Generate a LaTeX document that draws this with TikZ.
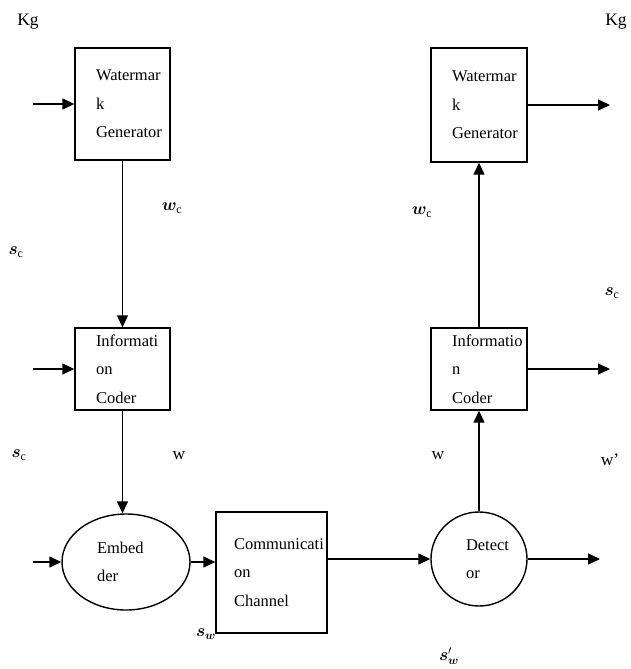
\documentclass[tikz,border=0pt]{standalone}
\usepackage{fontspec}
\setmainfont{Liberation Serif}
\usepackage{amsmath,bm}
\usetikzlibrary{shapes.geometric,arrows.meta}
\begin{document}
\begin{tikzpicture}[x=1pt,y=-1pt,
  every node/.style={font=\fontsize{16.5}{28.5}\selectfont},
  blockbox/.style={draw,line width=1.4pt,rectangle,inner sep=0pt,align=left},
  roundbox/.style={draw,line width=1.4pt,ellipse,inner sep=0pt,align=left},
  flow/.style={line width=1.4pt,-{Triangle[length=12pt,width=11pt]}},
  sym/.style={font=\fontsize{17}{17}\selectfont},
  txt/.style={font=\fontsize{17.5}{18}\selectfont}]
\useasboundingbox (0,0) rectangle (630,669);
% boxes and ellipses
\node[blockbox,minimum width=95pt,minimum height=112pt,text width=53pt] (wgl) at (122.5,104)
  {Watermar\\k\\Generator};
\node[blockbox,minimum width=95pt,minimum height=82pt,text width=53pt] (icl) at (122.5,369)
  {Informati\\on\\Coder};
\node[roundbox,minimum width=128pt,minimum height=96pt,text width=58pt] (emb) at (126,562)
  {Embed\\der};
\node[blockbox,minimum width=111pt,minimum height=121pt,text width=75pt] (ch) at (271.5,572.5)
  {Communicati\\on\\Channel};
\node[roundbox,minimum width=96pt,minimum height=94pt,text width=26pt] (det) at (479,559)
  {Detect\\or};
\node[blockbox,minimum width=96pt,minimum height=82pt,text width=54pt] (icr) at (479,369)
  {Informatio\\n\\Coder};
\node[blockbox,minimum width=96pt,minimum height=114pt,text width=54pt] (wgr) at (479,105)
  {Watermar\\k\\Generator};
% free ends
\coordinate (inwg) at (33,104);
\coordinate (inic) at (33,369);
\coordinate (inemb) at (33,562);
\coordinate (outdet) at (600,559);
\coordinate (outic) at (610,369);
\coordinate (outwg) at (610,105);
% connectors
\draw[flow] (inwg) -- (wgl.west);
\draw[flow] (inic) -- (icl.west);
\draw[flow] (inemb) -- (emb.west);
\draw[flow] (wgl.south) -- (icl.north);
\draw[flow] (icl.south) -- (icl.south |- emb.north);
\draw[flow] (emb.east) -- (ch.west |- emb.east);
\draw[flow] (ch.east |- det.west) -- (det.west);
\draw[flow] (det.east) -- (outdet);
\draw[flow] (det.north) -- (icr.south);
\draw[flow] (icr.north) -- (wgr.south);
\draw[flow] (icr.east) -- (outic);
\draw[flow] (wgr.east) -- (outwg);
% labels
\node[txt] (kgl) at (28,22) {Kg};
\node[txt] (kgr) at (616,22) {Kg};
\node[sym] (scl1) at (16,252) {$\bm{s}_{\mathrm{c}}$};
\node[sym] (wcl) at (172,208) {$\bm{w}_{\mathrm{c}}$};
\node[sym] (wcr) at (422,212) {$\bm{w}_{\mathrm{c}}$};
\node[sym] (scr) at (612,293) {$\bm{s}_{\mathrm{c}}$};
\node[sym] (scl2) at (19,455) {$\bm{s}_{\mathrm{c}}$};
\node[txt] (wl) at (179,456) {w};
\node[txt] (wr) at (438,456) {w};
\node[txt] (wp) at (610,460) {w’};
\node[sym] (sw) at (206,634) {$\bm{s}_{\bm{w}}$};
\node[sym] (swp) at (449,656) {$\bm{s}'_{\bm{w}}$};
\end{tikzpicture}
\end{document}
